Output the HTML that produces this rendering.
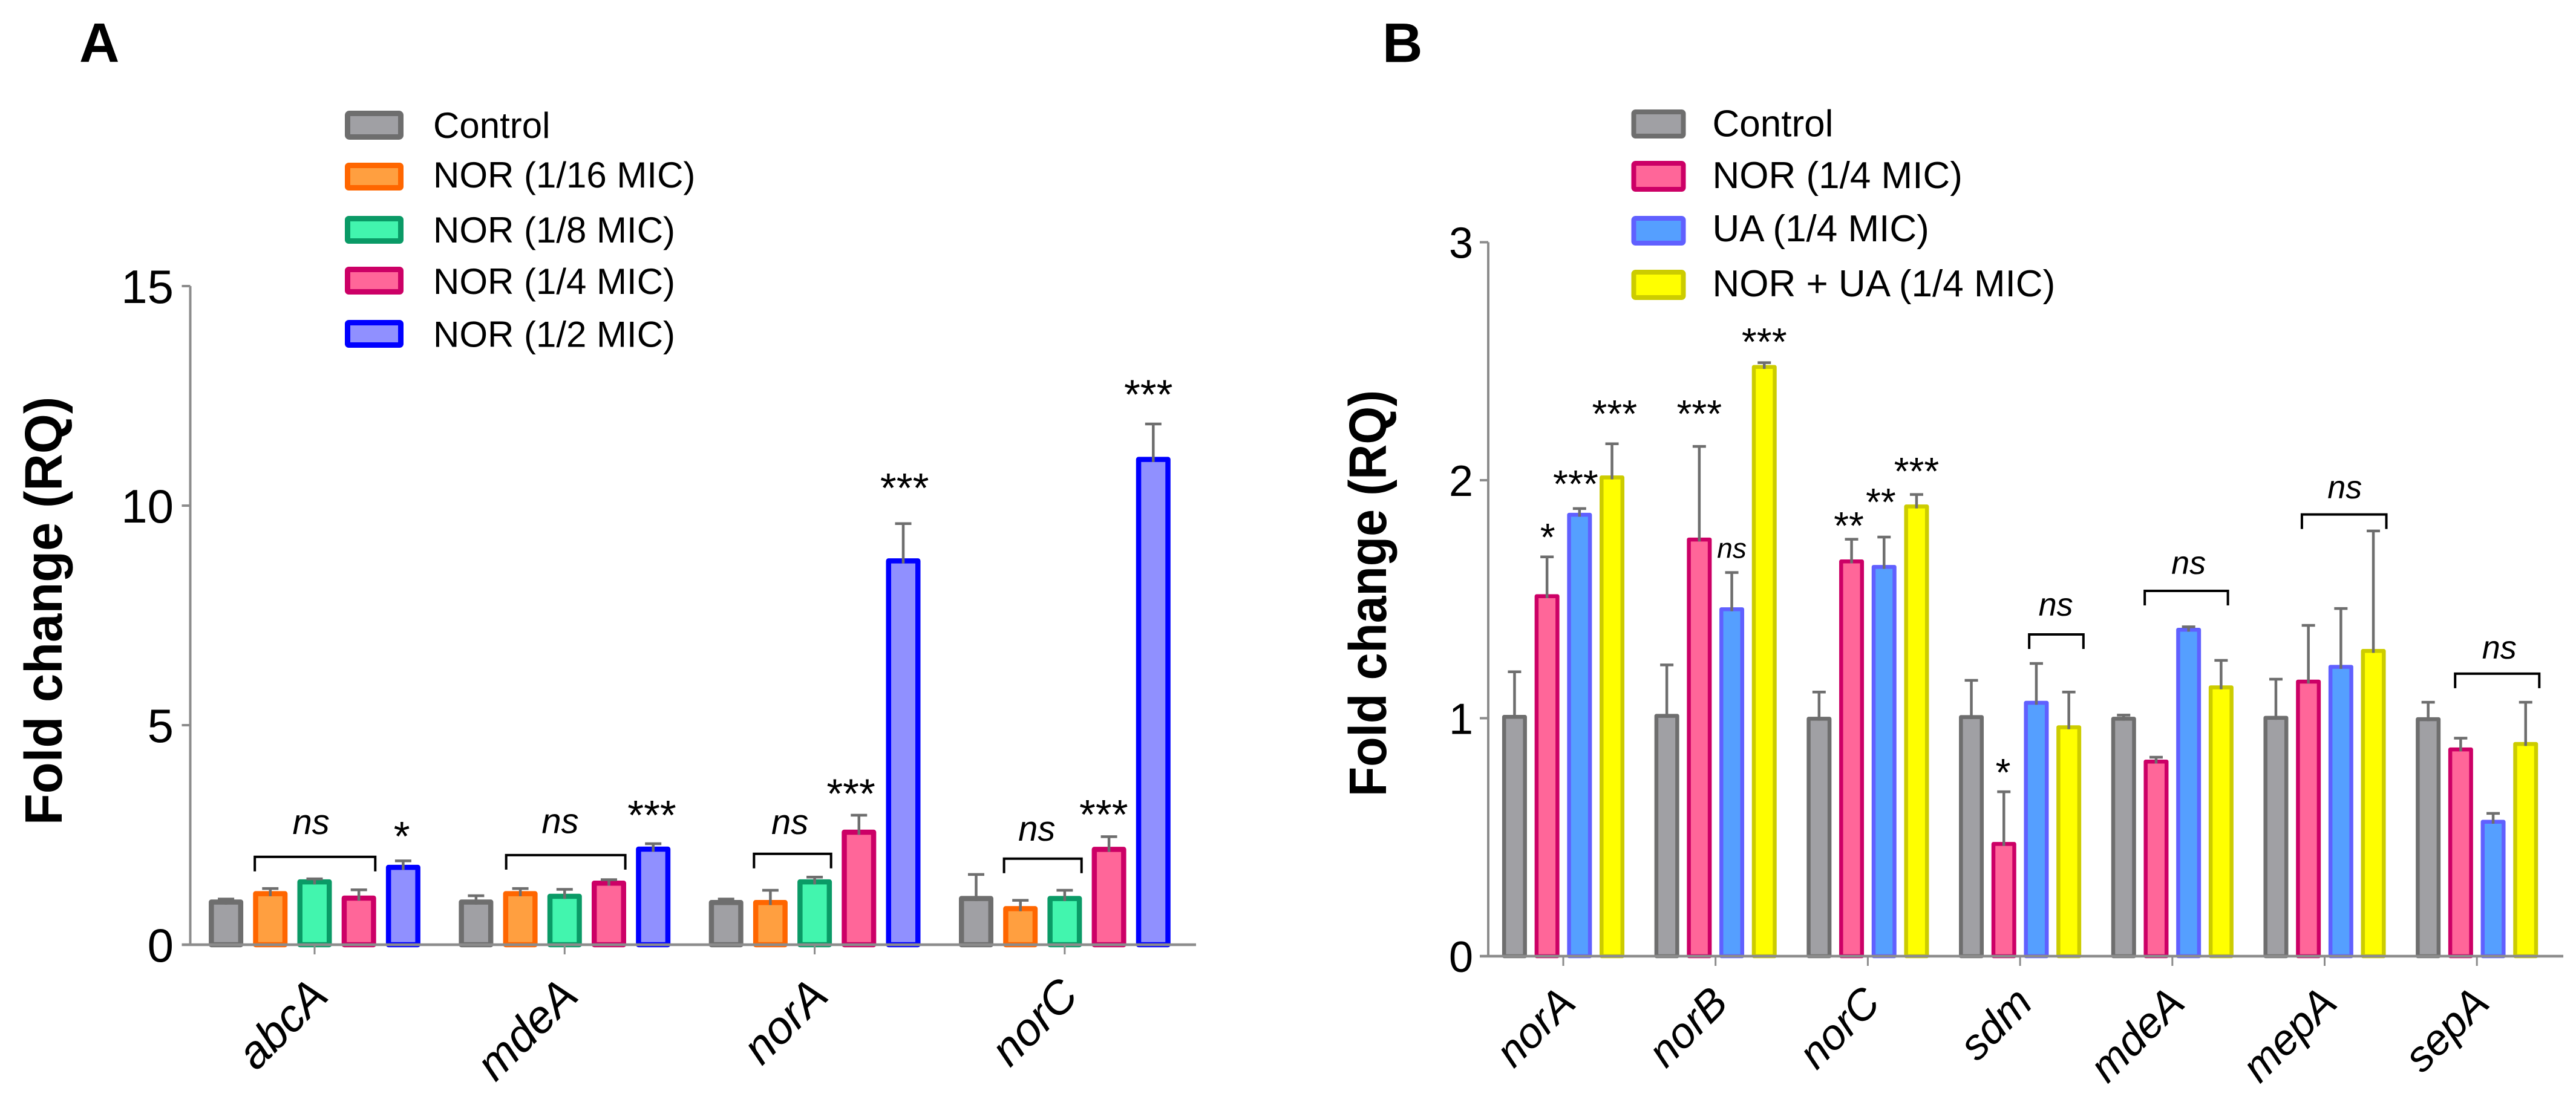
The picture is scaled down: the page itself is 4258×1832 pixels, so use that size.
<!DOCTYPE html>
<html lang="en">
<head>
<meta charset="utf-8">
<title>Fold change bar charts</title>
<style>
html,body{margin:0;padding:0;background:#fff;width:4258px;height:1832px;overflow:hidden}
svg{display:block}
text{font-family:"Liberation Sans",Arial,sans-serif;fill:#000}
</style>
</head>
<body>
<svg id="figure" xmlns="http://www.w3.org/2000/svg" width="4258" height="1832" viewBox="0 0 4258 1832">
  <rect x="0" y="0" width="4258" height="1832" fill="#ffffff"/>
  <text x="131" y="102" font-size="92" font-weight="bold">A</text>
  <text x="2285" y="102.5" font-size="92" font-weight="bold">B</text>
  <text transform="translate(102 1010) rotate(-90) scale(0.977 1)" text-anchor="middle" font-size="87" font-weight="bold">Fold change (RQ)</text>
  <text transform="translate(2291 981) rotate(-90) scale(0.927 1)" text-anchor="middle" font-size="87" font-weight="bold">Fold change (RQ)</text>

  <g font-size="60">
    <g><rect x="574.5" y="187.5" width="88" height="39" rx="3" fill="#a0a0a4" stroke="#6e6e6e" stroke-width="9"/><text x="716" y="228">Control</text></g>
    <g><rect x="574.5" y="273.5" width="88" height="37" rx="2" fill="#ff9f40" stroke="#ff6600" stroke-width="9"/><text x="716" y="310">NOR (1/16 MIC)</text></g>
    <g><rect x="574.5" y="361.5" width="88" height="37" rx="2" fill="#42f5ae" stroke="#0a9a66" stroke-width="9"/><text x="716" y="401">NOR (1/8 MIC)</text></g>
    <g><rect x="574.5" y="445.5" width="88" height="37" rx="2" fill="#ff6699" stroke="#cc0066" stroke-width="9"/><text x="716" y="486">NOR (1/4 MIC)</text></g>
    <g><rect x="574.5" y="533.5" width="88" height="37" rx="2" fill="#9090ff" stroke="#0000ff" stroke-width="9"/><text x="716" y="573.6">NOR (1/2 MIC)</text></g>
  </g>

  <g font-size="62">
    <g><rect x="2700.5" y="185" width="82" height="40" rx="3" fill="#a0a0a4" stroke="#6e6e6e" stroke-width="8"/><text x="2830.5" y="225.5">Control</text></g>
    <g><rect x="2700.5" y="270" width="82" height="43" rx="3" fill="#ff6699" stroke="#cc0066" stroke-width="8"/><text x="2830.5" y="311">NOR (1/4 MIC)</text></g>
    <g><rect x="2700.5" y="361" width="82" height="41" rx="3" fill="#559fff" stroke="#6060ff" stroke-width="8"/><text x="2830.5" y="399">UA (1/4 MIC)</text></g>
    <g><rect x="2700.5" y="450" width="82" height="42" rx="3" fill="#ffff00" stroke="#cccc00" stroke-width="8"/><text x="2830.5" y="490">NOR + UA (1/4 MIC)</text></g>
  </g>
</svg>

<script>
// ---------- Panel A data ----------
const categoriesA = ['abcA', 'mdeA', 'norA', 'norC'];
const ticksA = [0, 5, 10, 15];
const controlA = [1.03, 1.03, 1.02, 1.11];
const controlUpperA = [1.04, 1.115, 1.04, 1.6];
const nor16A = [1.22, 1.22, 1.02, 0.88];
const nor16UpperA = [1.28, 1.28, 1.24, 1.01];
const nor8A = [1.49, 1.16, 1.49, 1.11];
const nor8UpperA = [1.5, 1.26, 1.54, 1.24];
const nor4A = [1.12, 1.46, 2.62, 2.23];
const nor4UpperA = [1.25, 1.48, 2.95, 2.46];
const nor2A = [1.82, 2.235, 8.8, 11.11];
const nor2UpperA = [1.91, 2.3, 9.59, 11.86];
// [group, bar position, value-axis height, label]
const marksA = [
  [0, 3.97, 2.62, '*'], [1, 3.97, 3.1, '***'], [2, 2.82, 3.59, '***'],
  [2, 4.03, 10.55, '***'], [3, 2.88, 3.11, '***'], [3, 3.89, 12.68, '***'],
  [0, 1.92, 2.73, 'ns'], [1, 1.9, 2.75, 'ns'], [2, 1.44, 2.73, 'ns'], [3, 1.37, 2.58, 'ns']
];
// [group, first bar position, last bar position, value-axis height]
const bracketsA = [[0, 0.65, 3.37, 2.0], [1, 0.68, 3.37, 2.04], [2, 0.63, 2.37, 2.07], [3, 0.63, 2.38, 1.96]];

// ---------- Panel B data ----------
const categoriesB = ['norA', 'norB', 'norC', 'sdm', 'mdeA', 'mepA', 'sepA'];
const ticksB = [0, 1, 2, 3];
const controlB = [1.014, 1.018, 1.006, 1.013, 1.006, 1.01, 1.004];
const controlUpperB = [1.195, 1.224, 1.11, 1.159, 1.013, 1.164, 1.067];
const norB = [1.521, 1.759, 1.667, 0.48, 0.826, 1.162, 0.877];
const norUpperB = [1.678, 2.142, 1.752, 0.691, 0.836, 1.39, 0.916];
const uaB = [1.863, 1.466, 1.644, 1.073, 1.38, 1.224, 0.573];
const uaUpperB = [1.881, 1.612, 1.761, 1.23, 1.384, 1.461, 0.6];
const norUaB = [2.02, 2.484, 1.898, 0.97, 1.138, 1.291, 0.9];
const norUaUpperB = [2.153, 2.494, 1.94, 1.11, 1.243, 1.787, 1.067];
const marksB = [
  [0, 1.02, 1.787, '*'], [0, 1.88, 2.01, '***'], [0, 3.08, 2.305, '***'],
  [1, 1.0, 2.305, '***'], [1, 3.0, 2.608, '***'], [2, 0.915, 1.835, '**'],
  [2, 1.9, 1.934, '**'], [2, 3.0, 2.064, '***'], [3, 0.975, 0.798, '*'],
  [1, 2.0, 1.704, 'ns-small'], [3, 2.6, 1.466, 'ns'], [4, 2.0, 1.642, 'ns'],
  [5, 2.12, 1.96, 'ns'], [6, 2.19, 1.286, 'ns']
];
const bracketsB = [[3, 1.78, 3.45, 1.352], [4, 0.65, 3.21, 1.535], [5, 0.8, 3.4, 1.856], [6, 0.83, 3.42, 1.187]];

// ---------- Drawing ----------
const SVG_NS = 'http://www.w3.org/2000/svg';
const figure = document.getElementById('figure');

function make(tag, attrs, parent) {
  const node = document.createElementNS(SVG_NS, tag);
  for (const key in attrs) node.setAttribute(key, attrs[key]);
  parent.appendChild(node);
  return node;
}

function drawPanel(cfg) {
  const yOf = v => cfg.y0 - v * cfg.unit;
  const tickX = g => cfg.x0 + g * cfg.groupStep;
  const barX = (g, p) => tickX(g) + (p - cfg.midBar) * cfg.barStep;

  const panel = make('g', {}, figure);
  
  

  // bars
  cfg.series.forEach((s, i) => {
    s.values.forEach((v, g) => {
      const half = cfg.barWidth / 2;
      const cx = barX(g, i);
      const top = yOf(v);
      const bar = make('rect', {
        x: cx - half + cfg.sw / 2,
        y: top + cfg.sw / 2,
        width: cfg.barWidth - cfg.sw,
        height: Math.max(cfg.y0 - top - cfg.sw / 2, 0),
        fill: s.fill, stroke: s.stroke, 'stroke-width': cfg.sw, 'stroke-linejoin': 'round'
      }, panel);
      
      
    });
  });

  // error bars
  cfg.series.forEach((s, i) => {
    s.upper.forEach((u, g) => {
      const cx = barX(g, i);
      const top = yOf(u);
      const bottom = yOf(s.values[g]) + cfg.sw;
      const err = make('path', {
        d: 'M' + cx + ' ' + bottom + 'V' + top + 'M' + (cx - cfg.cap / 2) + ' ' + top + 'H' + (cx + cfg.cap / 2),
        fill: 'none', stroke: '#6e6e6e', 'stroke-width': 4.5
      }, panel);
      
      
    });
  });

  // y axis
  const axisY = make('path', {
    d: 'M' + cfg.axisX + ' ' + yOf(cfg.ticks[cfg.ticks.length - 1]) + 'V' + cfg.y0,
    fill: 'none', stroke: '#8c8c8c', 'stroke-width': 4
  }, panel);
  
  

  cfg.ticks.forEach(t => {
    const mark = make('path', {
      d: 'M' + (cfg.axisX - 14) + ' ' + yOf(t) + 'H' + cfg.axisX,
      fill: 'none', stroke: '#8c8c8c', 'stroke-width': 4
    }, panel);
    
    
    const label = make('text', {
      x: cfg.tickLabelX, y: yOf(t) + cfg.tickFont * 0.358,
      'text-anchor': 'end', 'font-size': cfg.tickFont
    }, panel);
    label.textContent = t;
    
    
  });

  // x axis
  const axisX = make('path', {
    d: 'M' + (cfg.axisX - 14) + ' ' + cfg.y0 + 'H' + cfg.axisEnd,
    fill: 'none', stroke: '#8c8c8c', 'stroke-width': 4.5
  }, panel);
  
  

  cfg.categories.forEach((c, g) => {
    const tx = tickX(g);
    const mark = make('path', {
      d: 'M' + tx + ' ' + cfg.y0 + 'V' + (cfg.y0 + 16),
      fill: 'none', stroke: '#8c8c8c', 'stroke-width': 3
    }, panel);
    
    
    const lx = tx + cfg.labelShift;
    const ly = cfg.y0 + cfg.labelDrop;
    const label = make('text', {
      x: lx, y: ly, transform: 'rotate(-45 ' + lx + ' ' + ly + ')',
      'text-anchor': 'end', 'font-size': cfg.labelFont, 'font-style': 'italic'
    }, panel);
    label.textContent = c;
    
    
  });

  // significance brackets
  cfg.brackets.forEach(b => {
    const left = barX(b[0], b[1]);
    const right = barX(b[0], b[2]);
    const top = yOf(b[3]);
    const br = make('path', {
      d: 'M' + left + ' ' + (top + 24) + 'V' + top + 'H' + right + 'V' + (top + 24),
      fill: 'none', stroke: '#000', 'stroke-width': 4
    }, panel);
    
    
  });

  // significance labels
  cfg.marks.forEach(m => {
    const kind = m[3];
    const isNs = kind.indexOf('ns') === 0;
    const size = kind === 'ns-small' ? 46 : (isNs ? cfg.nsFont : cfg.starFont);
    const lift = isNs ? 0.26 : cfg.starLift;
    const t = make('text', {
      x: barX(m[0], m[1]), y: yOf(m[2]) + size * lift,
      'text-anchor': 'middle', 'font-size': size
    }, panel);
    if (isNs) t.setAttribute('font-style', 'italic');
    t.textContent = isNs ? 'ns' : kind;
    
    
  });
}

drawPanel({
  id: 'a', categories: categoriesA, ticks: ticksA,
  series: [
    { name: 'control', values: controlA, upper: controlUpperA, fill: '#a0a0a4', stroke: '#6e6e6e' },
    { name: 'nor-1-16', values: nor16A, upper: nor16UpperA, fill: '#ff9f40', stroke: '#ff6600' },
    { name: 'nor-1-8', values: nor8A, upper: nor8UpperA, fill: '#42f5ae', stroke: '#0a9a66' },
    { name: 'nor-1-4', values: nor4A, upper: nor4UpperA, fill: '#ff6699', stroke: '#cc0066' },
    { name: 'nor-1-2', values: nor2A, upper: nor2UpperA, fill: '#9090ff', stroke: '#0000ff' }
  ],
  marks: marksA, brackets: bracketsA,
  x0: 520, groupStep: 413.3, barStep: 73.2, midBar: 2, barWidth: 57, sw: 8.5, cap: 27,
  y0: 1562, unit: 72.6, axisX: 314.5, axisEnd: 1977, tickLabelX: 287, tickFont: 78,
  labelFont: 76, labelDrop: 88, labelShift: 26, starFont: 69, starLift: 0.5, nsFont: 58
});

drawPanel({
  id: 'b', categories: categoriesB, ticks: ticksB,
  series: [
    { name: 'control', values: controlB, upper: controlUpperB, fill: '#a0a0a4', stroke: '#6e6e6e' },
    { name: 'nor', values: norB, upper: norUpperB, fill: '#ff6699', stroke: '#cc0066' },
    { name: 'ua', values: uaB, upper: uaUpperB, fill: '#559fff', stroke: '#6060ff' },
    { name: 'nor-ua', values: norUaB, upper: norUaUpperB, fill: '#ffff00', stroke: '#cccc00' }
  ],
  marks: marksB, brackets: bracketsB,
  x0: 2584, groupStep: 251.7, barStep: 53.7, midBar: 1.5, barWidth: 41, sw: 6.5, cap: 22,
  y0: 1581, unit: 393.5, axisX: 2460, axisEnd: 4237, tickLabelX: 2435, tickFont: 72,
  labelFont: 71, labelDrop: 81, labelShift: 24, starFont: 64, starLift: 0.5, nsFont: 54
});
</script>
</body>
</html>
